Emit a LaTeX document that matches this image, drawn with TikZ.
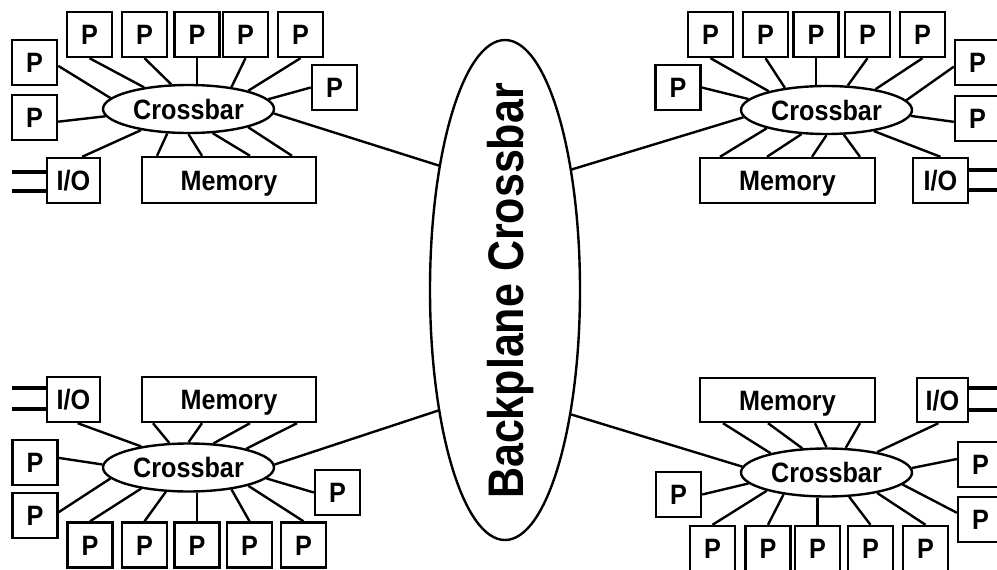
\documentclass[tikz,border=0pt]{standalone}
\usepackage{fontspec}
\setmainfont{Liberation Sans}[FakeStretch=0.9]
\newfontfamily\bpfont{Liberation Sans}[FakeStretch=0.86]
\usetikzlibrary{shapes.geometric}

\tikzset{
  boxfont/.style={font=\fontsize{28pt}{28pt}\selectfont\bfseries},
  pbox/.style={draw, line width=2.4pt, minimum width=45pt, minimum height=45pt,
    inner sep=0pt, text height=20pt, text depth=0pt, boxfont},
  xbar/.style={draw, ellipse, line width=2.4pt, minimum width=171pt,
    minimum height=48pt, inner sep=0pt, text height=20pt, text depth=0pt, boxfont},
  link/.style={line width=2.4pt},
  stub/.style={line width=4.5pt},
}

\begin{document}
\begin{tikzpicture}[x=1pt, y=-1pt]
\useasboundingbox (0,0) rectangle (997,570);

% ---------- backplane ----------
\node[draw, ellipse, line width=2.4pt, minimum width=150pt, minimum height=500pt,
  inner sep=0pt] (bp) at (505,290) {};
\node[rotate=90, anchor=base, inner sep=0pt,
  font=\bpfont\fontsize{50pt}{50pt}\selectfont\bfseries] (bptext) at (523,291)
  {Backplane Crossbar};

% ---------- top-left board ----------
\node[xbar] (tl-cb) at (188.5,109) {Crossbar};
\node[pbox] (tl-l1) at (34.5,62.5) {P};
\node[pbox] (tl-l2) at (34.5,117.5) {P};
\node[pbox] (tl-t1) at (89.5,34.5) {P};
\node[pbox] (tl-t2) at (144.5,34.5) {P};
\node[pbox] (tl-t3) at (197,34.5) {P};
\node[pbox] (tl-t4) at (245.5,34.5) {P};
\node[pbox] (tl-t5) at (300.5,34.5) {P};
\node[pbox] (tl-r) at (334.5,87.5) {P};
\node[pbox, minimum width=174pt, minimum height=46pt] (tl-mem) at (229,180) {Memory};
\node[pbox, minimum width=53pt] (tl-io) at (73.5,180.5) {I/O};

\draw[link] (tl-l1.-8) -- (tl-cb.172);
\draw[link] (tl-l2.-10) -- (tl-cb.185);
\draw[link] (tl-t1.south) -- (tl-cb.154);
\draw[link] (tl-t2.south) -- (tl-cb.125);
\draw[link] (tl-t3.south) -- (tl-t3.south |- tl-cb.north);
\draw[link] (tl-t4.south) -- (tl-cb.27);
\draw[link] (tl-t5.south) -- (tl-cb.17);
\draw[link] (tl-r.west) -- (tl-cb.7);
\draw[link] (tl-io.70) -- (tl-cb.204);
\draw[link] ([xshift=-72pt]tl-mem.north) -- (tl-cb.229);
\draw[link] ([xshift=-27pt]tl-mem.north) -- (tl-cb.270);
\draw[link] ([xshift=21pt]tl-mem.north) -- (tl-cb.315);
\draw[link] ([xshift=63pt]tl-mem.north) -- (tl-cb.343);
\draw[link] (tl-cb.357) -- (bp.118.5);
\draw[stub] ([yshift=8.5pt]tl-io.west) -- ++(-34,0);
\draw[stub] ([yshift=-10.5pt]tl-io.west) -- ++(-34,0);

% ---------- top-right board ----------
\node[xbar] (tr-cb) at (826.5,110) {Crossbar};
\node[pbox] (tr-l) at (678,87.5) {P};
\node[pbox] (tr-t1) at (710.5,34.5) {P};
\node[pbox] (tr-t2) at (765.5,34.5) {P};
\node[pbox] (tr-t3) at (816,34.5) {P};
\node[pbox] (tr-t4) at (867.5,34.5) {P};
\node[pbox] (tr-t5) at (922.5,34.5) {P};
\node[pbox] (tr-r1) at (977.5,62.5) {P};
\node[pbox] (tr-r2) at (977.5,118.5) {P};
\node[pbox, minimum width=175pt] (tr-mem) at (787.5,180.5) {Memory};
\node[pbox, minimum width=55pt] (tr-io) at (940.5,180.5) {I/O};

\draw[link] (tr-l.east) -- (tr-cb.172);
\draw[link] (tr-t1.south) -- (tr-cb.162);
\draw[link] (tr-t2.south) -- (tr-cb.152);
\draw[link] (tr-t3.south) -- (tr-t3.south |- tr-cb.north);
\draw[link] (tr-t4.south) -- (tr-cb.49);
\draw[link] (tr-t5.south) -- (tr-cb.23.5);
\draw[link] (tr-r1.190) -- (tr-cb.7);
\draw[link] (tr-r2.188) -- (tr-cb.356);
\draw[link] (tr-io.north) -- (tr-cb.336.5);
\draw[link] ([xshift=-67.5pt]tr-mem.north) -- (tr-cb.197);
\draw[link] ([xshift=-20.5pt]tr-mem.north) -- (tr-cb.224.5);
\draw[link] ([xshift=24.5pt]tr-mem.north) -- (tr-cb.270);
\draw[link] ([xshift=72.5pt]tr-mem.north) -- (tr-cb.305);
\draw[link] (tr-cb.185) -- (bp.61.5);
\draw[stub] ([yshift=10.5pt]tr-io.east) -- ++(34,0);
\draw[stub] ([yshift=-9.5pt]tr-io.east) -- ++(34,0);

% ---------- bottom-left board ----------
\node[xbar] (bl-cb) at (188.5,467.5) {Crossbar};
\node[pbox, minimum width=53pt] (bl-io) at (73.5,399.5) {I/O};
\node[pbox, minimum width=174pt] (bl-mem) at (229,399.5) {Memory};
\node[pbox] (bl-l1) at (35,462.5) {P};
\node[pbox] (bl-l2) at (35,515.5) {P};
\node[pbox] (bl-r) at (337.5,492.5) {P};
\node[pbox] (bl-b1) at (90,545) {P};
\node[pbox] (bl-b2) at (144.5,545) {P};
\node[pbox] (bl-b3) at (197,545) {P};
\node[pbox] (bl-b4) at (249.5,545) {P};
\node[pbox] (bl-b5) at (303.5,545) {P};

\draw[link] (bl-io.-80) -- (bl-cb.156);
\draw[link] ([xshift=-76pt]bl-mem.south) -- (bl-cb.128);
\draw[link] ([xshift=-27pt]bl-mem.south) -- (bl-cb.90);
\draw[link] ([xshift=21pt]bl-mem.south) -- (bl-cb.44.5);
\draw[link] ([xshift=68pt]bl-mem.south) -- (bl-cb.18);
\draw[link] (bl-cb.2.5) -- (bp.241.5);
\draw[link] (bl-l1.11) -- (bl-cb.178);
\draw[link] (bl-l2.8) -- (bl-cb.188);
\draw[link] (bl-b1.north) -- (bl-cb.204);
\draw[link] (bl-b2.north) -- (bl-cb.227);
\draw[link] (bl-b3.north) -- (bl-b3.north |- bl-cb.south);
\draw[link] (bl-b4.north) -- (bl-cb.333);
\draw[link] (bl-b5.north) -- (bl-cb.343);
\draw[link] (bl-r.west) -- (bl-cb.352);
\draw[stub] ([yshift=11.5pt]bl-io.west) -- ++(-34,0);
\draw[stub] ([yshift=-9.5pt]bl-io.west) -- ++(-34,0);

% ---------- bottom-right board ----------
\node[xbar] (br-cb) at (826.5,472.5) {Crossbar};
\node[pbox, minimum width=175pt, minimum height=44pt] (br-mem) at (787.5,400) {Memory};
\node[pbox, minimum width=51pt, minimum height=44pt] (br-io) at (942.5,400) {I/O};
\node[pbox] (br-r1) at (980.5,464.5) {P};
\node[pbox] (br-r2) at (980.5,519.5) {P};
\node[pbox] (br-l) at (678.5,494.5) {P};
\node[pbox] (br-b1) at (712.5,548.5) {P};
\node[pbox] (br-b2) at (768,548.5) {P};
\node[pbox] (br-b3) at (817.5,548.5) {P};
\node[pbox] (br-b4) at (870.5,548.5) {P};
\node[pbox] (br-b5) at (925.5,548.5) {P};

\draw[link] ([xshift=-64.5pt]br-mem.south) -- (br-cb.161);
\draw[link] ([xshift=-19.5pt]br-mem.south) -- (br-cb.135.5);
\draw[link] ([xshift=27.5pt]br-mem.south) -- (br-cb.90);
\draw[link] ([xshift=72.5pt]br-mem.south) -- (br-cb.52);
\draw[link] (br-io.-100) -- (br-cb.22);
\draw[link] (br-r1.167) -- (br-cb.3);
\draw[link] (br-r2.164) -- (br-cb.351);
\draw[link] (br-cb.176) -- (bp.298.5);
\draw[link] (br-l.east) -- (br-cb.188);
\draw[link] (br-b1.north) -- (br-cb.197);
\draw[link] (br-b2.north) -- (br-cb.207);
\draw[link] (br-b3.north) -- (br-b3.north |- br-cb.south);
\draw[link] (br-b4.north) -- (br-cb.313);
\draw[link] (br-b5.north) -- (br-cb.338);
\draw[stub] ([yshift=12pt]br-io.east) -- ++(34,0);
\draw[stub] ([yshift=-10pt]br-io.east) -- ++(34,0);
\end{tikzpicture}
\end{document}
